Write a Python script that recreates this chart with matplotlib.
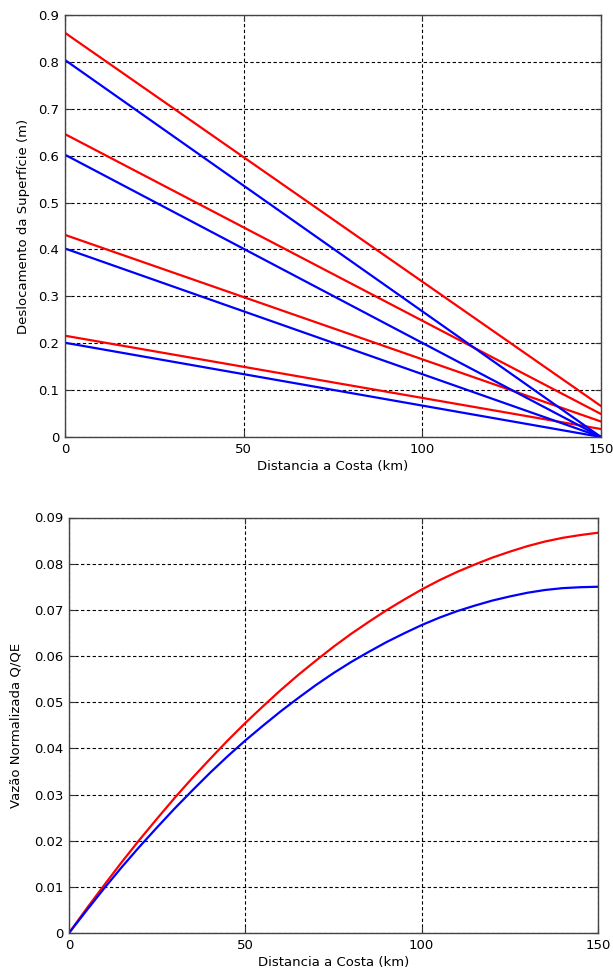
import matplotlib
matplotlib.use("Agg")
import matplotlib.pyplot as plt

plt.rcParams['font.family'] = ['DejaVu Sans']

# Top chart: surface displacement lines (start at 0 km, end at 150 km)
x_ends = [0, 150]
red_start = [0.862, 0.646, 0.431, 0.216]
red_end = [0.066, 0.049, 0.033, 0.017]
blue_start = [0.804, 0.602, 0.402, 0.201]
blue_end = [0.0, 0.0, 0.0, 0.0]

# Bottom chart: normalized flow
dist = [0, 5, 10, 15, 20, 25, 30, 35, 40, 45, 50, 55, 60, 65, 70, 75, 80,
        85, 90, 95, 100, 105, 110, 115, 120, 125, 130, 135, 140, 145, 150]
q_red = [0.0, 0.0053, 0.0104, 0.0154, 0.0202, 0.0248, 0.0293, 0.0336, 0.0377,
         0.0417, 0.0455, 0.0491, 0.0526, 0.0559, 0.0590, 0.0620, 0.0648,
         0.0674, 0.0699, 0.0722, 0.0744, 0.0764, 0.0782, 0.0798, 0.0813,
         0.0826, 0.0838, 0.0848, 0.0856, 0.0862, 0.0867]
q_blue = [0.0, 0.0049, 0.0097, 0.0143, 0.0187, 0.0229, 0.0270, 0.0309, 0.0347,
          0.0383, 0.0417, 0.0449, 0.0480, 0.0509, 0.0537, 0.0563, 0.0587,
          0.0609, 0.0630, 0.0649, 0.0667, 0.0683, 0.0697, 0.0709, 0.0720,
          0.0729, 0.0737, 0.0743, 0.0747, 0.0749, 0.0750]

fig = plt.figure(figsize=(6.13, 9.76), dpi=100)
ax1 = fig.add_axes([65/613, 1-437/976, (601-65)/613, (437-15)/976])
ax2 = fig.add_axes([69/613, 1-933/976, (598-69)/613, (933-517.5)/976])

LW = 1.6
for s, e in zip(red_start, red_end):
    ax1.plot(x_ends, [s, e], color='#ff0000', lw=LW)
for s, e in zip(blue_start, blue_end):
    ax1.plot(x_ends, [s, e], color='#0000ff', lw=LW)

ax2.plot(dist, q_red, color='#ff0000', lw=LW)
ax2.plot(dist, q_blue, color='#0000ff', lw=LW)

FS = 9.5

def style(ax, yticks, ylabels):
    ax.set_xlim(0, 150)
    ax.set_xticks([0, 50, 100, 150])
    ax.set_xticklabels(['0', '50', '100', '150'])
    ax.set_yticks(yticks)
    ax.set_yticklabels(ylabels)
    ax.set_ylim(yticks[0], yticks[-1])
    ax.grid(True, color='black', linestyle=(0, (3, 2.2)), linewidth=0.8)
    ax.tick_params(direction='in', top=True, right=True, length=4,
                   labelsize=FS, color='#333333', pad=4)
    for sp in ax.spines.values():
        sp.set_color('#444444')
        sp.set_linewidth(1.0)
    ax.set_xlabel('Distancia a Costa (km)', fontsize=FS, labelpad=3)

style(ax1, [0, 0.1, 0.2, 0.3, 0.4, 0.5, 0.6, 0.7, 0.8, 0.9],
      ['0', '0.1', '0.2', '0.3', '0.4', '0.5', '0.6', '0.7', '0.8', '0.9'])
ax1.set_ylabel('Deslocamento da Superfície (m)', fontsize=FS, labelpad=6)

style(ax2, [0, 0.01, 0.02, 0.03, 0.04, 0.05, 0.06, 0.07, 0.08, 0.09],
      ['0', '0.01', '0.02', '0.03', '0.04', '0.05', '0.06', '0.07', '0.08', '0.09'])
ax2.set_ylabel('Vazão Normalizada Q/QE', fontsize=FS, labelpad=8)

fig.savefig('out.png', dpi=100)
